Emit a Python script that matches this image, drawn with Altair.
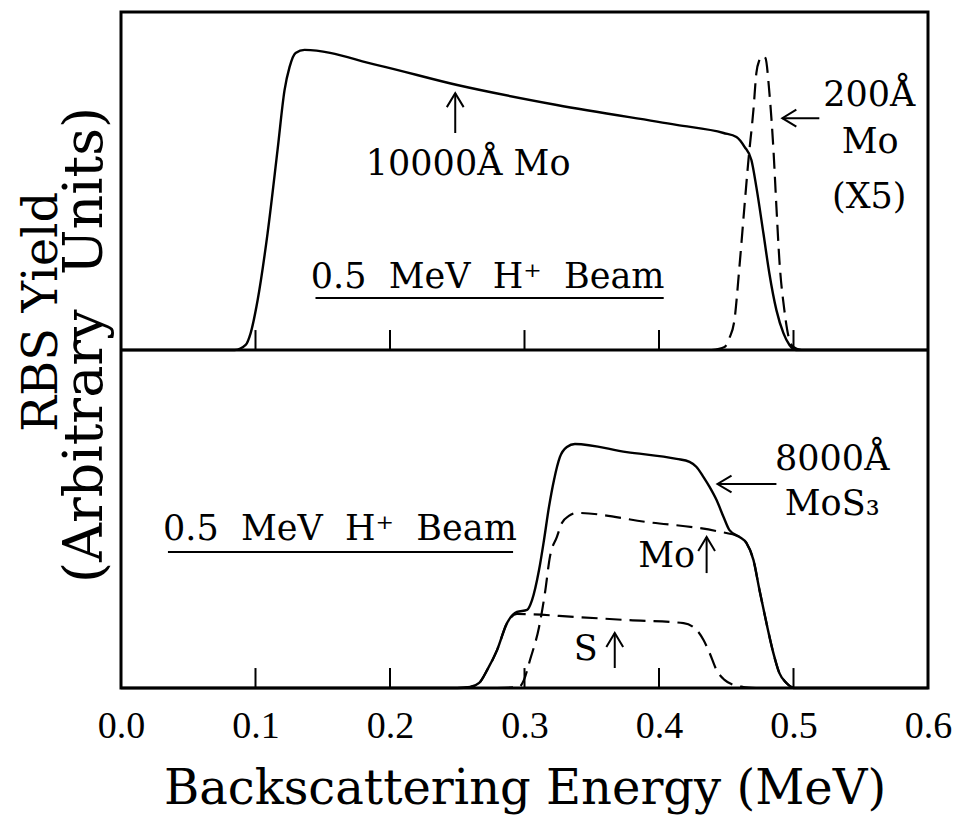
import altair as alt
import pandas as pd

# ---------------- data ----------------
X_TICKS = [0.0, 0.1, 0.2, 0.3, 0.4, 0.5, 0.6]
INNER_TICKS = [0.1, 0.2, 0.3, 0.4, 0.5]

# Upper panel (panel units 0..1): 10000 A Mo film (solid)
mo10k_E = [0.0, 0.0846, 0.0927, 0.0964, 0.1016, 0.1090, 0.1164, 0.1216, 0.1253, 0.1298,
           0.1365, 0.1906, 0.2500, 0.3240, 0.4130, 0.4480, 0.4576, 0.4636, 0.4687, 0.4724,
           0.4776, 0.4820, 0.4873, 0.4925, 0.4970, 0.5020, 0.6]
mo10k_Y = [0.0, 0.0, 0.015, 0.050, 0.148, 0.346, 0.592, 0.769, 0.837, 0.879,
           0.888, 0.843, 0.784, 0.725, 0.666, 0.642, 0.630, 0.601, 0.562, 0.482,
           0.346, 0.228, 0.118, 0.050, 0.015, 0.0, 0.0]

# Upper panel: 200 A Mo film (x5), dashed
mo200_E = [0.4391, 0.4487, 0.4524, 0.4561, 0.4598, 0.4635, 0.4665, 0.4702, 0.4724, 0.4747,
           0.4769, 0.4791, 0.4821, 0.4851, 0.4873, 0.4895, 0.4932, 0.4969, 0.4999, 0.5058]
mo200_Y = [0.0, 0.009, 0.036, 0.089, 0.246, 0.423, 0.562, 0.710, 0.820, 0.858,
           0.870, 0.864, 0.760, 0.592, 0.423, 0.266, 0.118, 0.030, 0.009, 0.0]

# Lower panel: 8000 A MoS3 total (solid)
mos3_E = [0.0, 0.2500, 0.2596, 0.2663, 0.2722, 0.2796, 0.2870, 0.2944, 0.3019, 0.3056,
          0.3108, 0.3145, 0.3182, 0.3219, 0.3263, 0.3315, 0.3375, 0.3760, 0.4131, 0.4227,
          0.4279, 0.4331, 0.4376, 0.4428, 0.4480, 0.4524, 0.4598, 0.4650, 0.4702, 0.4747,
          0.4799, 0.4850, 0.4895, 0.4947, 0.4999, 0.6]
mos3_Y = [0.0, 0.0, 0.003, 0.015, 0.053, 0.112, 0.192, 0.225, 0.231, 0.260,
          0.349, 0.438, 0.536, 0.615, 0.683, 0.713, 0.722, 0.698, 0.678, 0.669,
          0.654, 0.624, 0.595, 0.556, 0.506, 0.467, 0.447, 0.429, 0.379, 0.290,
          0.192, 0.104, 0.044, 0.015, 0.0, 0.0]

# Lower panel: Mo contribution (dashed)
mos3mo_E = [0.2796, 0.2959, 0.2996, 0.3041, 0.3108, 0.3152, 0.3189, 0.3241, 0.3278, 0.3330,
            0.3389, 0.3909, 0.4428, 0.4598, 0.4650, 0.4702, 0.4747, 0.4799, 0.4850, 0.4895,
            0.4947, 0.4999]
mos3mo_Y = [0.0, 0.003, 0.024, 0.083, 0.180, 0.281, 0.388, 0.447, 0.488, 0.509,
            0.518, 0.491, 0.464, 0.447, 0.429, 0.379, 0.290, 0.192, 0.104, 0.044,
            0.015, 0.0]

# Lower panel: S contribution (dashed)
mos3s_E = [0.2500, 0.2596, 0.2663, 0.2722, 0.2796, 0.2870, 0.2944, 0.3389, 0.3760, 0.4183,
           0.4279, 0.4331, 0.4376, 0.4428, 0.4487, 0.4554, 0.4628, 0.4724]
mos3s_Y = [0.0, 0.003, 0.015, 0.053, 0.112, 0.192, 0.219, 0.210, 0.201, 0.192,
           0.172, 0.142, 0.104, 0.053, 0.024, 0.009, 0.003, 0.0]

# Annotation texts (whole-chart y units: lower panel 0..1, upper panel 1..2)
NB = "\u00a0"
ann_text = ["10000Å Mo", "0.5" + NB + " MeV" + NB + " H⁺" + NB + " Beam", "200Å", "Mo", "(X5)",
            "0.5" + NB + " MeV" + NB + " H⁺" + NB + " Beam", "8000Å", "MoS₃", "Mo", "S"]
ann_E = [0.2581, 0.2726, 0.5563, 0.5570, 0.5563, 0.1628, 0.5288, 0.5288, 0.4057, 0.3456]
ann_Y = [1.518, 1.183, 1.722, 1.583, 1.420, 0.438, 0.645, 0.512, 0.358, 0.0828]

# Underlines under the beam labels
ul_E = [0.1446, 0.0349]
ul_E2 = [0.4035, 0.2915]
ul_Y = [1.154, 0.402]

# Arrows: tail -> tip
arr_E = [0.2485, 0.5192, 0.4873, 0.4354, 0.3671]
arr_Y = [1.642, 1.686, 0.6036, 0.340, 0.0592]
arr_E2 = [0.2485, 0.4917, 0.4435, 0.4354, 0.3671]
arr_Y2 = [1.760, 1.686, 0.6036, 0.4467, 0.1627]
arr_angle = [0, 270, 270, 0, 0]

# ---------------- tables ----------------
def series(name, E, Y, offset):
    return pd.DataFrame({"E": E, "Y": [v + offset for v in Y], "series": name})

solid_df = pd.concat([series("10000A Mo", mo10k_E, mo10k_Y, 1.0),
                      series("8000A MoS3", mos3_E, mos3_Y, 0.0)])
dashed_df = pd.concat([series("200A Mo x5", mo200_E, mo200_Y, 1.0),
                       series("Mo in MoS3", mos3mo_E, mos3mo_Y, 0.0),
                       series("S in MoS3", mos3s_E, mos3s_Y, 0.0)])
ann_df = pd.DataFrame({"text": ann_text, "E": ann_E, "Y": ann_Y})
ul_df = pd.DataFrame({"E": ul_E, "E2": ul_E2, "Y": ul_Y})
arr_df = pd.DataFrame({"E": arr_E, "Y": arr_Y, "E2": arr_E2, "Y2": arr_Y2, "angle": arr_angle})
tick_df = pd.DataFrame({"E": INNER_TICKS * 2,
                        "Y": [1.0] * 5 + [0.0] * 5,
                        "Y2": [1.059] * 5 + [0.059] * 5})
div_df = pd.DataFrame({"E": [0.0], "E2": [0.6], "Y": [1.0]})

FONT = "DejaVu Serif"
NUMFONT = "Liberation Serif"

xscale = alt.Scale(domain=[0, 0.6], nice=False, zero=False)
yscale = alt.Scale(domain=[0, 2], nice=False, zero=False)

x_enc = alt.X("E:Q", scale=xscale,
              axis=alt.Axis(values=X_TICKS, format=".1f", grid=False, domain=False,
                            ticks=False, tickSize=0, labelPadding=19, labelFont=NUMFONT,
                            labelFontSize=38, labelColor="black", labelFlush=False,
                            labelOverlap=False,
                            title="Backscattering Energy (MeV)", titleFont=FONT,
                            titleFontSize=48, titleFontWeight="normal",
                            titleColor="black", titlePadding=20))
y_enc = alt.Y("Y:Q", scale=yscale, axis=None)

solid = alt.Chart(solid_df).mark_line(color="black", strokeWidth=2.4,
                                      interpolate="monotone").encode(
    x=x_enc, y=y_enc, detail="series:N")
dashed = alt.Chart(dashed_df).mark_line(color="black", strokeWidth=2.2,
                                        interpolate="monotone",
                                        strokeDash=[16, 8]).encode(
    x=alt.X("E:Q"), y=alt.Y("Y:Q"), detail="series:N")

divider = alt.Chart(div_df).mark_rule(color="black", strokeWidth=3).encode(
    x="E:Q", x2="E2:Q", y="Y:Q")
ticks = alt.Chart(tick_df).mark_rule(color="black", strokeWidth=2).encode(
    x="E:Q", y="Y:Q", y2="Y2:Q")

texts = alt.Chart(ann_df).mark_text(font=FONT, fontSize=35, color="black",
                                    align="center", baseline="alphabetic").encode(
    x="E:Q", y="Y:Q", text="text:N")
underlines = alt.Chart(ul_df).mark_rule(color="black", strokeWidth=2).encode(
    x="E:Q", x2="E2:Q", y="Y:Q")
shafts = alt.Chart(arr_df).mark_rule(color="black", strokeWidth=2).encode(
    x="E:Q", x2="E2:Q", y="Y:Q", y2="Y2:Q")
heads = alt.Chart(arr_df).mark_point(shape="M -0.6 1 L 0 0 L 0.6 1", size=784,
                                     filled=False, stroke="black", strokeWidth=2,
                                     opacity=1).encode(
    x="E2:Q", y="Y2:Q", angle=alt.Angle("angle:Q", scale=None))

ytitle1 = alt.Chart(pd.DataFrame({"t": ["RBS Yield"]})).mark_text(
    font=FONT, fontSize=48, color="black", angle=270, align="center",
    baseline="alphabetic").encode(text="t:N", x=alt.value(-64), y=alt.value(300))
ytitle2 = alt.Chart(pd.DataFrame({"t": ["(Arbitrary" + NB + " Units)"]})).mark_text(
    font=FONT, fontSize=54, color="black", angle=270, align="center",
    baseline="alphabetic").encode(text="t:N", x=alt.value(-19), y=alt.value(333))

chart = alt.layer(solid, dashed, divider, ticks, underlines, shafts, heads, texts,
                  ytitle1, ytitle2).properties(
    width=807, height=676,
    padding={"left": 113, "top": 4, "right": 24, "bottom": 131},
    autosize=alt.AutoSizeParams(type="none"),
    background="white",
).configure_view(stroke="black", strokeWidth=3)

chart.save("out.html", embed_options={"renderer": "svg", "actions": False})
